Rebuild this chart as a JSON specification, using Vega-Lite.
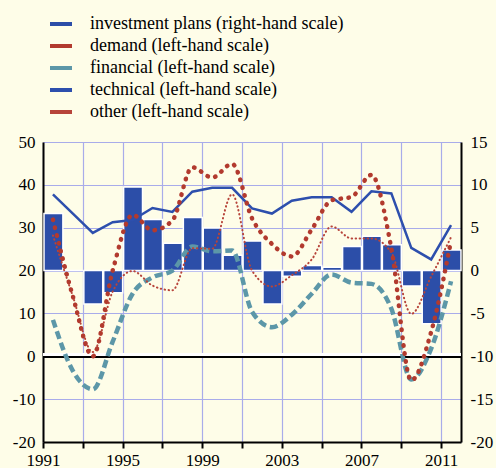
{
  "$schema": "https://vega.github.io/schema/vega-lite/v6.json",
  "width": 418,
  "height": 300,
  "autosize": {"type": "none"},
  "padding": {"left": 43, "top": 142, "right": 35, "bottom": 26},
  "background": "#FEFDE8",
  "config": {
    "view": {"stroke": null},
    "font": "Liberation Serif",
    "axis": {
      "labelFont": "Liberation Serif",
      "labelFontSize": 17,
      "labelColor": "black",
      "title": null,
      "domainColor": "black",
      "domainWidth": 2,
      "gridColor": "#A9ACEA",
      "gridWidth": 1.2,
      "gridOpacity": 1
    }
  },
  "data": {
    "values": [
      {"year": "1991", "plans": 6.65, "demand": 31.9, "financial": 8.5, "technical": 37.8, "other": 28.2},
      {"year": "1992", "plans": 0, "demand": 14, "financial": -3.4, "technical": 33.3, "other": 14},
      {"year": "1993", "plans": -3.9, "demand": 0, "financial": -7.7, "technical": 28.8, "other": 1},
      {"year": "1994", "plans": -2.6, "demand": 20, "financial": 3.4, "technical": 31.3, "other": 15.1},
      {"year": "1995", "plans": 9.76, "demand": 33, "financial": 14.6, "technical": 31.8, "other": 19.9},
      {"year": "1996", "plans": 5.95, "demand": 29.4, "financial": 18.4, "technical": 34.6, "other": 16.5},
      {"year": "1997", "plans": 3.2, "demand": 31.7, "financial": 20.0, "technical": 33.7, "other": 15.4},
      {"year": "1998", "plans": 6.2, "demand": 44.1, "financial": 25.6, "technical": 38.4, "other": 25.2},
      {"year": "1999", "plans": 4.96, "demand": 41.7, "financial": 24.5, "technical": 39.3, "other": 25.1},
      {"year": "2000", "plans": 1.8, "demand": 44.9, "financial": 24.7, "technical": 39.3, "other": 37.8},
      {"year": "2001", "plans": 3.44, "demand": 32.2, "financial": 10.4, "technical": 34.5, "other": 20.0},
      {"year": "2002", "plans": -3.9, "demand": 26.2, "financial": 6.8, "technical": 33.3, "other": 16.3},
      {"year": "2003", "plans": -0.65, "demand": 23.3, "financial": 9.7, "technical": 36.3, "other": 18.9},
      {"year": "2004", "plans": 0.6, "demand": 29.6, "financial": 14.6, "technical": 37.1, "other": 22.6},
      {"year": "2005", "plans": 0.4, "demand": 36.4, "financial": 19.1, "technical": 37.1, "other": 30.3},
      {"year": "2006", "plans": 2.8, "demand": 37.2, "financial": 17.2, "technical": 33.7, "other": 27.5},
      {"year": "2007", "plans": 4.0, "demand": 42.3, "financial": 16.9, "technical": 38.5, "other": 27.5},
      {"year": "2008", "plans": 3.0, "demand": 25.2, "financial": 11.1, "technical": 38.0, "other": 24.2},
      {"year": "2009", "plans": -1.8, "demand": -5.6, "financial": -5.4, "technical": 25.3, "other": 9.9},
      {"year": "2010", "plans": -6.2, "demand": 5.7, "financial": 1.8, "technical": 22.6, "other": 18.6},
      {"year": "2011", "plans": 2.4, "demand": 27.0, "financial": 17.5, "technical": 30.6, "other": 27.8}
    ]
  },
  "layer": [
    {
      "mark": {"type": "bar", "stroke": "white", "strokeWidth": 1.5},
      "encoding": {
        "x": {
          "field": "year", "timeUnit": "utcyear", "type": "temporal",
          "scale": {"domain": [{"year": 1991, "utc": true}, {"year": 2012, "utc": true}]},
          "axis": {
            "values": [{"year": 1991, "utc": true}, {"year": 1993, "utc": true}, {"year": 1995, "utc": true}, {"year": 1997, "utc": true}, {"year": 1999, "utc": true}, {"year": 2001, "utc": true}, {"year": 2003, "utc": true}, {"year": 2005, "utc": true}, {"year": 2007, "utc": true}, {"year": 2009, "utc": true}, {"year": 2011, "utc": true}],
            "labelExpr": "(utcyear(datum.value) - 1991) % 4 == 0 ? utcFormat(datum.value, '%Y') : ''",
            "grid": true,
            "tickSize": 6,
            "tickWidth": 2,
            "tickColor": "black",
            "labelPadding": 4,
            "labelFlush": false,
            "labelOverlap": false
          }
        },
        "y": {
          "field": "plans", "type": "quantitative",
          "scale": {"domain": [-20, 15], "nice": false},
          "axis": {
            "orient": "right",
            "values": [-20, -15, -10, -5, 0, 5, 10, 15],
            "grid": false,
            "tickSize": 0,
            "labelPadding": 9,
            "labelAlign": "left",
            "labelExpr": "datum.value < 0 ? '-' + abs(datum.value) : '\u00a0\u00a0' + datum.value"
          }
        },
        "color": {
          "datum": "investment plans (right-hand scale)",
          "scale": {
            "domain": ["investment plans (right-hand scale)", "demand (left-hand scale)", "financial (left-hand scale)", "technical (left-hand scale)", "other (left-hand scale)"],
            "range": ["#2C4EA8", "#B23A2E", "#5C97A8", "#2D4FAD", "#B7443A"]
          },
          "legend": {
            "orient": "none",
            "legendX": 5,
            "legendY": -131,
            "title": null,
            "symbolType": "stroke",
            "symbolSize": 484,
            "symbolStrokeWidth": 4,
            "labelFont": "Liberation Serif",
            "labelFontSize": 18,
            "labelColor": "black",
            "labelOffset": 16,
            "labelLimit": 400,
            "rowPadding": 0
          }
        }
      }
    },
    {
      "layer": [
        {
          "mark": {"type": "rule", "color": "white", "strokeWidth": 3, "yOffset": -1.5},
          "encoding": {
            "y": {
              "datum": 0, "type": "quantitative",
              "scale": {"domain": [-20, 50], "nice": false},
              "axis": {
                "orient": "left",
                "values": [-20, -10, 0, 10, 20, 30, 40, 50],
                "grid": true,
                "tickSize": 0,
                "labelPadding": 8,
                "labelExpr": "replace(datum.label, '\u2212', '-')"
              }
            }
          }
        },
        {
          "mark": {"type": "rule", "color": "black", "strokeWidth": 1.5, "yOffset": 1},
          "encoding": {"y": {"datum": 0, "type": "quantitative"}}
        },
        {
          "mark": {"type": "line", "strokeWidth": 4.5, "strokeDash": [8, 4], "interpolate": "monotone"},
          "encoding": {
            "x": {"field": "year", "timeUnit": "utcyear", "type": "temporal", "bandPosition": 0.5},
            "y": {"field": "financial", "type": "quantitative"},
            "color": {"datum": "financial (left-hand scale)"}
          }
        },
        {
          "mark": {"type": "line", "strokeWidth": 2.5, "interpolate": "linear"},
          "encoding": {
            "x": {"field": "year", "timeUnit": "utcyear", "type": "temporal", "bandPosition": 0.5},
            "y": {"field": "technical", "type": "quantitative"},
            "color": {"datum": "technical (left-hand scale)"}
          }
        },
        {
          "mark": {"type": "line", "strokeWidth": 2, "strokeDash": [0.5, 3.5], "strokeCap": "round", "interpolate": "monotone"},
          "encoding": {
            "x": {"field": "year", "timeUnit": "utcyear", "type": "temporal", "bandPosition": 0.5},
            "y": {"field": "other", "type": "quantitative"},
            "color": {"datum": "other (left-hand scale)"}
          }
        },
        {
          "mark": {"type": "line", "strokeWidth": 4.5, "strokeDash": [0.5, 7.5], "strokeCap": "round", "interpolate": "monotone"},
          "encoding": {
            "x": {"field": "year", "timeUnit": "utcyear", "type": "temporal", "bandPosition": 0.5},
            "y": {"field": "demand", "type": "quantitative"},
            "color": {"datum": "demand (left-hand scale)"}
          }
        }
      ]
    }
  ],
  "resolve": {"scale": {"y": "independent"}}
}
